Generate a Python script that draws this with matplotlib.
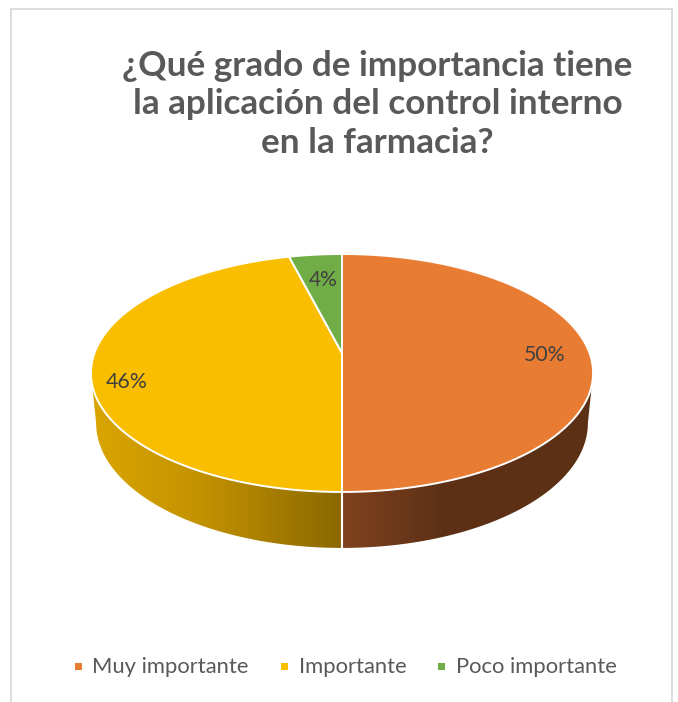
import numpy as np
import matplotlib
matplotlib.use("Agg")
import matplotlib.pyplot as plt
from matplotlib.patches import Polygon, Rectangle
from matplotlib.colors import to_rgb

# ---------------- data ----------------
categories = ["Muy importante", "Importante", "Poco importante"]
values = [50, 46, 4]
pct_labels = ["50%", "46%", "4%"]
title_lines = ["¿Qué grado de importancia tiene",
               "la aplicación del control interno",
               "en la farmacia?"]

# ---------------- style ----------------
top_colors = ["#E97C33", "#FABE00", "#70AD47"]
side_stops = [
    [(342, "#80421E"), (440, "#5E3116"), (600, "#5C3015")],
    [(88, "#DBA600"), (200, "#C39200"), (342, "#8A6800")],
    [(88, "#4E7A31"), (600, "#3A5A25")],
]
TEXT_GRAY = "#595959"
LABEL_GRAY = "#404040"
FONT = "Lato"

W, H = 678, 702
fig = plt.figure(figsize=(W / 100, H / 100), dpi=100)
ax = fig.add_axes([0, 0, 1, 1])
ax.set_xlim(0, W)
ax.set_ylim(H, 0)
ax.axis("off")

# chart frame
ax.plot([10.5, 10.5, 671.5, 671.5], [H + 5, 8.5, 8.5, H + 5],
        color="#D9D9D9", lw=1.3, solid_joinstyle="miter", zorder=0)

# ---------------- perspective projection ----------------
cx, cy = 342.0, 353.0
phi = np.deg2rad(27.85)
c, s = np.cos(phi), np.sin(phi)
D = 5.95 * c
f = 247.5 * D
h = 0.231


def proj(th, r=1.0, Y=0.0):
    X = r * np.sin(th)
    Z = r * np.cos(th)
    v = Y * c + Z * s
    w = D + Z * c - Y * s
    return cx + f * X / w, cy - f * v / w


def gradient_row(stops, xs):
    px = [p[0] for p in stops]
    cols = np.array([to_rgb(p[1]) for p in stops])
    return np.stack([np.interp(xs, px, cols[:, k]) for k in range(3)], axis=-1)


total = float(sum(values))
bounds = np.concatenate([[0], np.cumsum(values)]) / total * 2 * np.pi

# silhouette tangent angles of top and bottom rims
t_top = np.arccos(-c / D)
t_bot = np.arccos(-c / (D + h * s))
rng_top = (t_top, 2 * np.pi - t_top)
rng_bot = (t_bot, 2 * np.pi - t_bot)

# side walls (visible front part), each filled with a horizontal gradient
for i in range(len(values)):
    a0t, a1t = max(bounds[i], rng_top[0]), min(bounds[i + 1], rng_top[1])
    a0b, a1b = max(bounds[i], rng_bot[0]), min(bounds[i + 1], rng_bot[1])
    if a1t <= a0t or a1b <= a0b:
        continue
    top = [proj(t) for t in np.linspace(a0t, a1t, 300)]
    bot = [proj(t, 1, -h) for t in np.linspace(a1b, a0b, 300)]
    pts = np.array(top + bot)
    poly = Polygon(pts, closed=True, facecolor="none", edgecolor="none")
    ax.add_patch(poly)
    x0, x1 = pts[:, 0].min() - 2, pts[:, 0].max() + 2
    y0, y1 = pts[:, 1].min() - 2, pts[:, 1].max() + 2
    xs = np.linspace(x0, x1, 400)
    img = np.repeat(gradient_row(side_stops[i], xs)[None, :, :], 2, axis=0)
    im = ax.imshow(img, extent=(x0, x1, y1, y0), aspect="auto",
                   interpolation="bilinear", zorder=1)
    im.set_clip_path(poly)
ax.set_xlim(0, W)
ax.set_ylim(H, 0)

# seams between slices on the front wall
for b in bounds[1:-1]:
    if rng_top[0] < b < rng_top[1]:
        p = proj(b); q = proj(b, 1, -h)
        ax.plot([p[0], q[0]], [p[1], q[1]], color="white", lw=1.5, zorder=3)

# top faces
for i in range(len(values)):
    ths = np.linspace(bounds[i], bounds[i + 1], 200)
    pts = [proj(0, 0)] + [proj(t) for t in ths]
    ax.add_patch(Polygon(pts, closed=True, facecolor=top_colors[i],
                         edgecolor="white", lw=1.4, joinstyle="round",
                         zorder=2))

# ---------------- text helpers ----------------
fig.canvas.draw()
renderer = fig.canvas.get_renderer()


def fit(txt, target_w):
    bb = txt.get_window_extent(renderer)
    txt.set_fontsize(txt.get_fontsize() * target_w / bb.width)


# data labels
label_r = [0.82, 0.86, 0.69]
label_dy = [2, 16, -2]
for i, lab in enumerate(pct_labels):
    mid = (bounds[i] + bounds[i + 1]) / 2
    x, y = proj(mid, label_r[i])
    t = ax.text(x, y + label_dy[i], lab, ha="center", va="center",
                color=LABEL_GRAY, fontfamily=FONT, fontsize=14, zorder=5)
    fit(t, 42 if len(lab) == 3 else 29)

# title
title_y = [76, 114.5, 153]
tt = []
for line, y in zip(title_lines, title_y):
    tt.append(ax.text(377.5, y, line, ha="center", va="baseline",
                      color=TEXT_GRAY, fontfamily=FONT, fontweight="bold",
                      fontsize=22, zorder=5))
bb = tt[0].get_window_extent(renderer)
fs = 22 * 511 / bb.width
for t in tt:
    t.set_fontsize(fs)

# legend
leg_marker_x = [75, 281, 438]
leg_text_x = [92, 299, 456]
lt = []
for i, name in enumerate(categories):
    ax.add_patch(Rectangle((leg_marker_x[i], 663), 7, 7,
                           facecolor=top_colors[i], edgecolor="none",
                           zorder=5))
    lt.append(ax.text(leg_text_x[i], 673, name, ha="left", va="baseline",
                      color=TEXT_GRAY, fontfamily=FONT, fontsize=14,
                      zorder=5))
bb = lt[0].get_window_extent(renderer)
lfs = 14 * 157 / bb.width
for t in lt:
    t.set_fontsize(lfs)

fig.savefig("out.png", dpi=100, facecolor="white")
